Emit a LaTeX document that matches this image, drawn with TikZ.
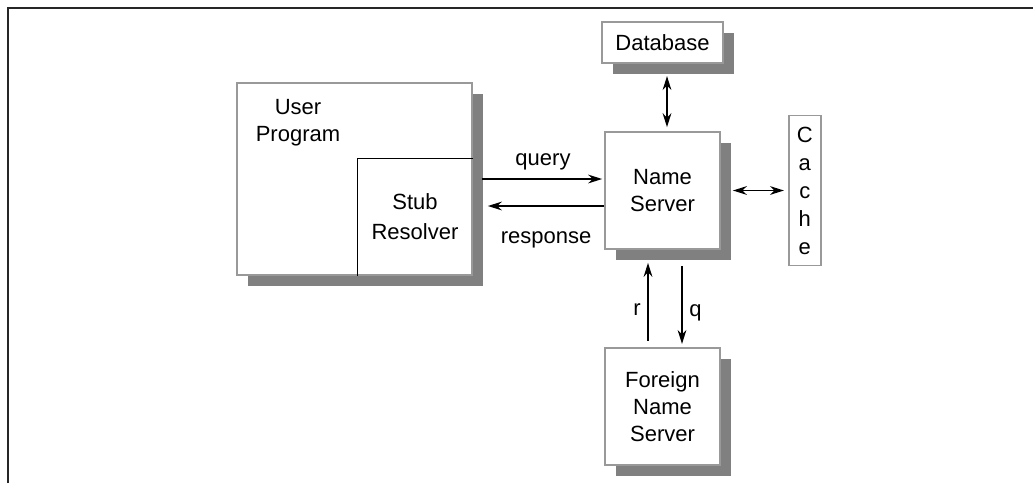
\documentclass[tikz,border=0pt]{standalone}
\usepackage{fontspec}
\setmainfont{Liberation Sans}
\usetikzlibrary{arrows.meta, positioning, shadows}

\begin{document}
\begin{tikzpicture}[
    x=0.5pt, y=-0.5pt,
    node distance=33.5pt,
    plainbox/.style={rectangle, draw=black!40, line width=0.9pt, fill=white, inner sep=0pt, align=center, font=\fontsize{11}{13.5}\selectfont, minimum width=57.5pt, minimum height=58.5pt},
    box/.style={plainbox, drop shadow={shadow xshift=5.5pt, shadow yshift=-5.5pt, fill=black!50, opacity=1}},
    cachebox/.style={plainbox, minimum width=16pt, minimum height=75pt, font=\fontsize{11}{14}\selectfont},
    arrow/.style={-{Stealth[length=7pt, width=4.4pt]}, line width=0.7pt},
    dblarrow/.style={{Stealth[length=7pt, width=4.4pt]}-{Stealth[length=7pt, width=4.4pt]}, line width=0.7pt},
    lbl/.style={font=\fontsize{11}{13.5}\selectfont, align=center}
]
\useasboundingbox (0,0) rectangle (1033,483);

% Frame
\draw[line width=1pt, black!85] (8,483) -- (8,8) -- (1033,8);

% User program with its stub resolver
\node[box, minimum width=117.5pt, minimum height=96pt] (user) at (354.5,179) {};
\node[lbl] (usertxt) at (298,123) {User\\Program};
\node[rectangle, inner sep=0pt, minimum width=57.5pt, minimum height=58.5pt, anchor=south east, align=center, font=\fontsize{11}{15}\selectfont] (stub) at (user.south east) {Stub\\Resolver};
\draw[line width=0.6pt] (stub.south west) |- (stub.north east);

% Name server and its neighbours
\node[box] (ns) at (662.5,190.5) {Name\\Server};
\node[box, minimum width=60.5pt, minimum height=20.5pt, above=of ns] (db) {Database};
\node[cachebox, right=of ns] (cache) {C\\a\\c\\h\\e};
\node[box, below=48.5pt of ns] (foreign) {Foreign\\Name\\Server};

% Arrows
\draw[arrow, shorten >=1pt] ([xshift=4.5pt]user.east) -- (user.east -| ns.west) node[midway, above=1pt, lbl] {query};
\draw[arrow] ([yshift=-7.75pt]ns.west) -- ([xshift=7.5pt,yshift=-7.75pt]ns.west -| user.east) node[midway, below=9pt, lbl] {response};

\draw[dblarrow] ([xshift=2.25pt,yshift=-6pt]db.south) -- ([xshift=2.25pt,yshift=2pt]ns.north);
\draw[dblarrow] ([xshift=6pt]ns.east |- cache.west) -- ([xshift=-2pt]cache.west);

\draw[arrow] ([xshift=-7.25pt,yshift=3pt]foreign.north) -- ([xshift=-7.25pt,yshift=-6.5pt]ns.south) node[pos=0.4, left, lbl] {r};
\draw[arrow] ([xshift=9.75pt,yshift=-8pt]ns.south) -- ([xshift=9.75pt,yshift=1.5pt]foreign.north) node[pos=0.6, right, lbl] {q};

\end{tikzpicture}
\end{document}
